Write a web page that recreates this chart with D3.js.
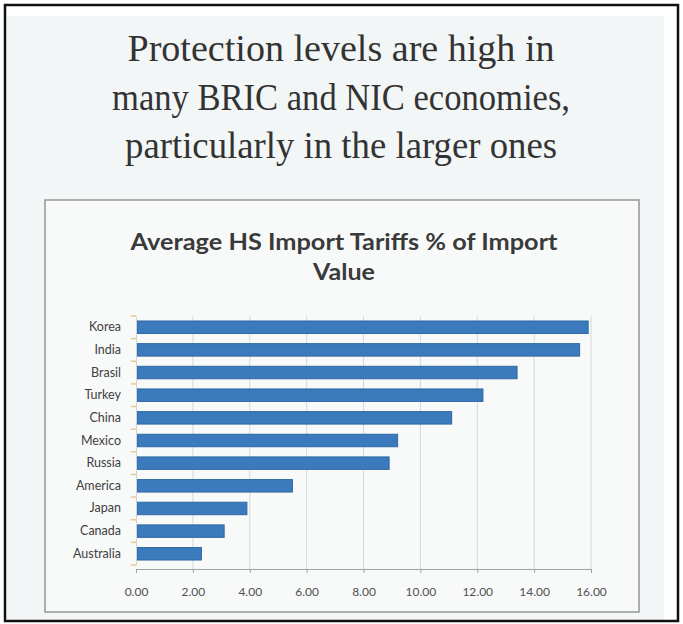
<!DOCTYPE html>
<html>
<head>
<meta charset="utf-8">
<script src="https://cdn.jsdelivr.net/npm/d3@7"></script>
<style>
  html, body { margin: 0; padding: 0; background: #ffffff; }
  svg { display: block; }
</style>
</head>
<body>
<svg id="chart" width="683" height="624"></svg>
<script>
// Average HS import tariffs, % of import value
const countries = ["Korea", "India", "Brasil", "Turkey", "China", "Mexico", "Russia", "America", "Japan", "Canada", "Australia"];
const tariffs = [15.9, 15.6, 13.4, 12.2, 11.1, 9.2, 8.9, 5.5, 3.9, 3.1, 2.3];
const xTicks = [0, 2, 4, 6, 8, 10, 12, 14, 16];
const headline = ["Protection levels are high in", "many BRIC and NIC economies,", "particularly in the larger ones"];
const chartTitle = ["Average HS Import Tariffs % of Import", "Value"];

const svg = d3.select("#chart");

// slide frame and background
svg.append("rect").attr("x", 7).attr("y", 16).attr("width", 657).attr("height", 604).attr("fill", "#f3f6f6");
svg.append("rect").attr("x", 5).attr("y", 5).attr("width", 673).attr("height", 616)
  .attr("fill", "none").attr("stroke", "#111").attr("stroke-width", 2.5);

// slide headline
const headWidths = [427, 458, 432];
svg.append("g").selectAll("text").data(headline).join("text")
  .attr("x", 341).attr("y", (d, i) => 61 + i * 48.5)
  .attr("text-anchor", "middle")
  .attr("font-family", "Liberation Serif, Times New Roman, serif")
  .attr("font-size", 38)
  .attr("fill", "#333")
  .attr("textLength", (d, i) => headWidths[i])
  .attr("lengthAdjust", "spacingAndGlyphs")
  .text(d => d);

// chart box
svg.append("rect").attr("x", 45).attr("y", 200).attr("width", 594).attr("height", 412)
  .attr("fill", "#f8fafa").attr("stroke", "#9c9c9c").attr("stroke-width", 1.6);

const titleWidths = [427, 62];
svg.append("g").selectAll("text").data(chartTitle).join("text")
  .attr("x", 344).attr("y", (d, i) => 250 + i * 30)
  .attr("text-anchor", "middle")
  .attr("font-family", "Lato, sans-serif")
  .attr("font-weight", "bold")
  .attr("font-size", 23)
  .attr("fill", "#3a3a3a")
  .attr("textLength", (d, i) => titleWidths[i])
  .attr("lengthAdjust", "spacingAndGlyphs")
  .text(d => d);

// scales
const x = d3.scaleLinear().domain([0, 16]).range([136, 591]);
const y = d3.scaleBand().domain(countries).range([316, 565]).paddingInner(0.45).paddingOuter(0.22);

// vertical gridlines
svg.append("g").selectAll("line").data(xTicks.slice(1)).join("line")
  .attr("x1", d => x(d)).attr("x2", d => x(d))
  .attr("y1", 316).attr("y2", 569)
  .attr("stroke", "#d4d8d8").attr("stroke-width", 1);

// bars
svg.append("g").selectAll("rect").data(countries).join("rect")
  .attr("x", x(0) + 1).attr("y", d => y(d))
  .attr("width", (d, i) => x(tariffs[i]) - x(0) - 1)
  .attr("height", y.bandwidth())
  .attr("fill", "#3b7abd").attr("stroke", "#2f67a3").attr("stroke-width", 1);

// x axis
const xAxis = svg.append("g").attr("transform", "translate(0,569)")
  .call(d3.axisBottom(x).tickValues(xTicks).tickFormat(d3.format(".2f")).tickSize(4).tickPadding(14));
xAxis.select(".domain").attr("stroke", "#a0a4a4");
xAxis.selectAll(".tick line").attr("stroke", "#a0a4a4");
xAxis.selectAll("text").attr("font-family", "Lato, sans-serif").attr("font-size", 12).attr("fill", "#505050");

// y axis
const yAxis = svg.append("g").attr("transform", "translate(136,0)")
  .call(d3.axisLeft(y).tickSize(0).tickPadding(15));
yAxis.select(".domain").attr("stroke", "#d0d4d4");
yAxis.selectAll("text").attr("font-family", "Lato, sans-serif").attr("font-size", 12.5).attr("fill", "#404040");

// faint category separators on the axis
svg.append("g").selectAll("line").data(d3.range(countries.length + 1)).join("line")
  .attr("x1", 131).attr("x2", 136)
  .attr("y1", i => 316 + i * (249 / countries.length))
  .attr("y2", i => 316 + i * (249 / countries.length))
  .attr("stroke", "#f1c68a").attr("stroke-width", 1.5);
</script>
</body>
</html>
